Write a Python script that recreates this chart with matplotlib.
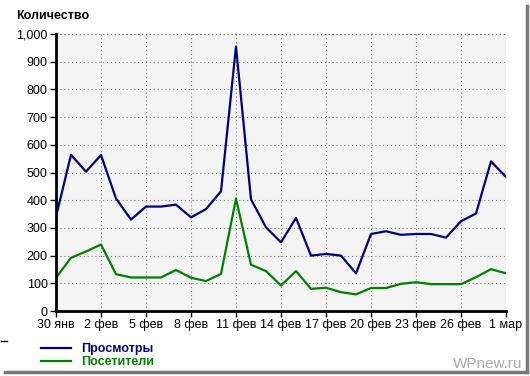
import matplotlib.pyplot as plt
from matplotlib.lines import Line2D

# daily values, 30 Jan .. 1 Mar
views = [340, 564, 503, 563, 406, 330, 377, 377, 384, 338, 368, 432, 955, 403,
         302, 248, 336, 200, 206, 200, 136, 278, 288, 275, 278, 278, 265, 324,
         352, 540, 484]
visitors = [120, 192, 215, 240, 133, 121, 121, 121, 148, 120, 108, 134, 406, 167,
            144, 92, 144, 80, 84, 68, 60, 83, 83, 98, 104, 97, 97, 97,
            122, 151, 136]
tick_labels = ['30 янв', '2 фев', '5 фев', '8 фев', '11 фев', '14 фев',
               '17 фев', '20 фев', '23 фев', '26 фев', '1 мар']
y_labels = ['0', '100', '200', '300', '400', '500', '600', '700', '800', '900', '1,000']

plt.rcParams['font.family'] = ['Liberation Sans', 'DejaVu Sans']

W, H = 530, 376
fig = plt.figure(figsize=(W / 100, H / 100), dpi=100)
ax = fig.add_axes([56 / W, 1 - 311 / H, 450 / W, 277 / H])
ax.set_facecolor('#f4f4f4')

days = list(range(len(views)))
l1, = ax.plot(days, views, color='#000080', lw=1.6, label='Просмотры')
l2, = ax.plot(days, visitors, color='#008000', lw=1.6, label='Посетители')

ax.set_xlim(0, 30)
ax.set_ylim(0, 1000)
ax.set_xticks(range(0, 31, 3))
ax.set_xticklabels(tick_labels, fontsize=9)
ax.set_yticks(range(0, 1001, 100))
ax.set_yticklabels(y_labels, fontsize=9)
ax.grid(True, linestyle=(0, (1, 2.5)), color='#777777', lw=0.8)
for s in ['top', 'right']:
    ax.spines[s].set_visible(False)
ax.spines['left'].set_linewidth(2)
ax.spines['bottom'].set_linewidth(2)
ax.tick_params(length=4, width=1, pad=2)

# grid lines on the far edges
ax.axhline(1000, linestyle=(0, (1, 2.5)), color='#777777', lw=0.8)
ax.axvline(30, linestyle=(0, (1, 2.5)), color='#777777', lw=0.8)

fig.text(16 / W, 1 - 16 / H, 'Количество', fontsize=9, fontweight='bold',
         va='center', ha='left')

leg = fig.legend(handles=[l1, l2], loc='upper left',
                 bbox_to_anchor=(35 / W, 1 - 337 / H), frameon=False,
                 fontsize=9, handlelength=2.35, handletextpad=0.85,
                 labelspacing=0.05, borderpad=0)
for t, c in zip(leg.get_texts(), ['#000080', '#008000']):
    t.set_color(c)
    t.set_fontweight('bold')

fig.add_artist(Line2D([1 / W, 7 / W], [1 - 341 / H, 1 - 341 / H], color='black', lw=1))

fig.text(522 / W, 1 - 364 / H, 'WPnew.ru', fontsize=11, color='#aaaaaa',
         ha='right', va='center')

# frame shadow
fig.add_artist(Line2D([527 / W, 527 / W], [1 - 6 / H, 1 - 372 / H], color='#777777', lw=2.5))
fig.add_artist(Line2D([5 / W, 527 / W], [1 - 372 / H, 1 - 372 / H], color='#777777', lw=2.5))

fig.savefig('out.png', dpi=100)
